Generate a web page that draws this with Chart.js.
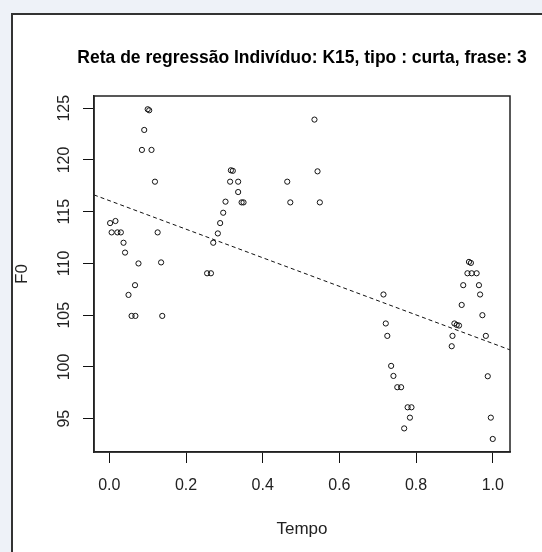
<!DOCTYPE html>
<html>
<head>
<meta charset="utf-8">
<script src="https://cdn.jsdelivr.net/npm/chart.js@4"></script>
<style>
  html, body { margin: 0; padding: 0; background: #eef2f8; }
  #panel { position: absolute; left: 11px; top: 13px; right: 0; bottom: 0;
           background: #fff; border-left: 2px solid #333; border-top: 2px solid #333; }
  #myChart { position: absolute; left: 0; top: 0; }
</style>
</head>
<body>
<div id="panel"></div>
<canvas id="myChart" width="542" height="552"></canvas>
<script>
// tempo (x) and F0 (y) of each point
const tempo = [
    0.002, 0.016, 0.006, 0.021, 0.030, 0.037, 0.041, 0.067, 0.050, 0.058, 0.068, 0.076,
    0.085, 0.110, 0.091, 0.100, 0.104, 0.119, 0.126, 0.135, 0.138,
    0.255, 0.265, 0.271, 0.283, 0.289, 0.297, 0.303, 0.315, 0.336, 0.317, 0.322, 0.336, 0.345, 0.350,
    0.464, 0.472, 0.535, 0.543, 0.549,
    0.715, 0.721, 0.725, 0.735, 0.741, 0.751, 0.761, 0.778, 0.788, 0.784, 0.769,
    0.893, 0.895, 0.900, 0.906, 0.912, 0.919, 0.923, 0.934, 0.945, 0.958, 0.938, 0.943,
    0.964, 0.967, 0.973, 0.982, 0.987, 0.995, 1.000
];
const f0 = [
    113.9, 114.1, 113.0, 113.0, 113.0, 112.0, 111.05, 107.9, 106.96, 104.93, 104.93, 110.0,
    120.97, 120.97, 122.9, 124.9, 124.8, 117.9, 113.0, 110.1, 104.93,
    109.05, 109.05, 112.0, 112.9, 113.9, 114.9, 115.97, 117.9, 117.9, 119.0, 118.95, 116.9, 115.9, 115.9,
    117.9, 115.9, 123.9, 118.9, 115.9,
    107.0, 104.2, 103.0, 100.1, 99.13, 98.04, 98.04, 96.1, 96.1, 95.1, 94.06,
    102.0, 103.0, 104.2, 104.06, 104.0, 105.99, 107.9, 109.05, 109.05, 109.05, 110.15, 110.05,
    107.9, 107.0, 105.0, 103.0, 99.1, 95.1, 93.04
];

// regression line coefficients
const intercept = 116.07;
const slope = -13.8;

// axis ranges and ticks
const xMin = -0.04, xMax = 1.045;
const yMin = 91.78, yMax = 126.18;
const xStep = 0.2, yStep = 5;

const titleText = 'Reta de regressão Indivíduo: K15, tipo : curta, frase: 3';
const xTitle = 'Tempo';
const yTitle = 'F0';

const fam = '"Liberation Sans", Arial, Helvetica, sans-serif';

// box round the plot + main title centred over the plot area
const boxPlugin = {
    id: 'box',
    afterDatasetsDraw(chart) {
        const a = chart.chartArea;
        const c = chart.ctx;
        c.save();
        c.strokeStyle = '#222';
        c.lineWidth = 1.5;
        c.strokeRect(a.left, a.top, a.right - a.left, a.bottom - a.top);
        c.fillStyle = '#000';
        c.font = 'bold 17.5px ' + fam;
        c.textAlign = 'center';
        c.textBaseline = 'middle';
        c.fillText(titleText, (a.left + a.right) / 2, 58);
        c.restore();
    }
};

document.addEventListener('DOMContentLoaded', function() {
    const points = tempo.map((t, i) => ({x: t, y: f0[i]}));
    const lineX = [xMin, xMax];
    const linePts = lineX.map(x => ({x: x, y: intercept + slope * x}));

    const ctx = document.getElementById('myChart').getContext('2d');
    new Chart(ctx, {
        type: 'scatter',
        data: {
            datasets: [{
                label: 'F0',
                data: points,
                pointStyle: 'circle',
                pointRadius: 2.6,
                pointHoverRadius: 2.6,
                borderColor: '#111',
                backgroundColor: 'rgba(0,0,0,0)',
                borderWidth: 1
            }, {
                label: 'Reta',
                data: linePts,
                showLine: true,
                borderColor: '#111',
                borderWidth: 1,
                borderDash: [4, 3],
                pointRadius: 0,
                fill: false
            }]
        },
        options: {
            responsive: false,
            animation: false,
            layout: { padding: { left: 0, right: 32, top: 96, bottom: 0 } },
            plugins: {
                legend: { display: false },
                tooltip: { enabled: false },
                title: { display: false }
            },
            scales: {
                x: {
                    type: 'linear',
                    min: xMin,
                    max: xMax,
                    afterFit(s) { s.height = 100; },
                    ticks: {
                        stepSize: xStep,
                        includeBounds: false,
                        maxRotation: 0,
                        padding: 13.4,
                        color: '#222',
                        font: { family: fam, size: 16 },
                        callback: v => v.toFixed(1)
                    },
                    grid: { drawOnChartArea: false, color: '#111', tickLength: 11 },
                    border: { color: '#222', width: 1.5 },
                    title: {
                        display: true, text: xTitle, color: '#222',
                        font: { family: fam, size: 17 },
                        padding: { top: 0, bottom: 12 }
                    }
                },
                y: {
                    type: 'linear',
                    min: yMin,
                    max: yMax,
                    afterFit(s) { s.width = 94; },
                    ticks: {
                        stepSize: yStep,
                        includeBounds: false,
                        minRotation: 90,
                        maxRotation: 90,
                        crossAlign: 'center',
                        padding: 4.6,
                        color: '#222',
                        font: { family: fam, size: 16 }
                    },
                    grid: { drawOnChartArea: false, color: '#111', tickLength: 11 },
                    border: { color: '#222', width: 1.5 },
                    title: {
                        display: true, text: yTitle, color: '#222',
                        font: { family: fam, size: 17 },
                        padding: { top: 12, bottom: 0 }
                    }
                }
            }
        },
        plugins: [boxPlugin]
    });
});
</script>
</body>
</html>
